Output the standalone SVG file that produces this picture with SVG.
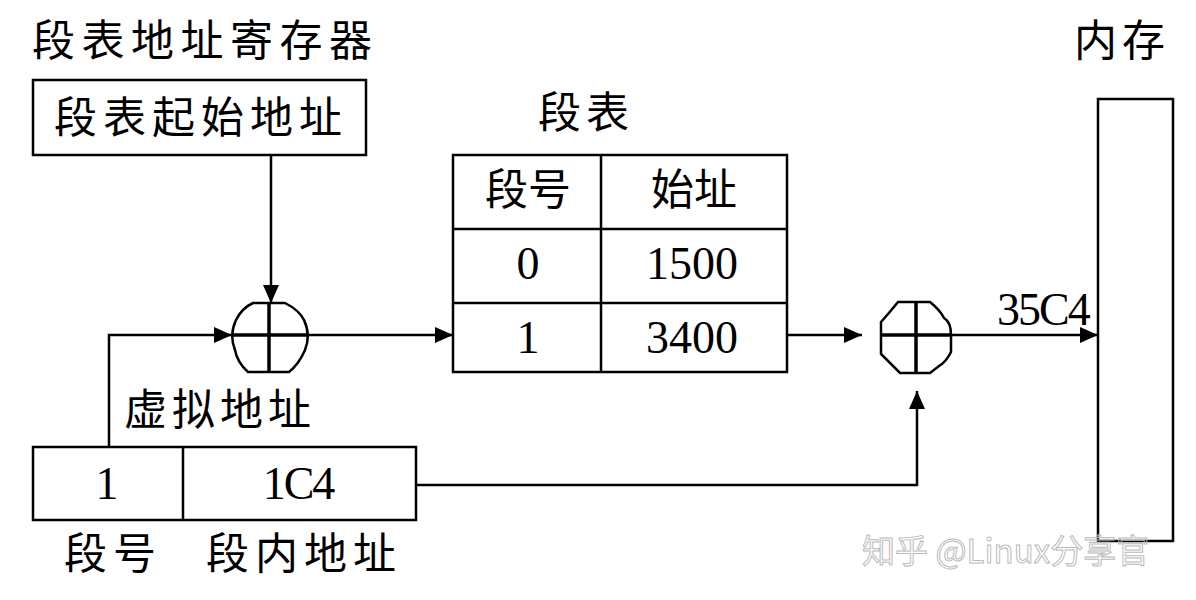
<svg xmlns="http://www.w3.org/2000/svg" width="1196" height="600" viewBox="0 0 1196 600">
<defs>
<style>
.box{fill:none;stroke:#000;stroke-width:2.5}
.ln{fill:none;stroke:#000;stroke-width:2.5}
.cross{fill:none;stroke:#000;stroke-width:3.5}
.zh{font-family:"Noto Sans CJK SC","Noto Sans",sans-serif;font-size:43px;fill:#000}
.num{font-family:"Liberation Serif",serif;font-size:46px;fill:#000}
.wm{font-family:"Noto Sans CJK SC","Noto Sans",sans-serif;font-size:33px;fill:none;stroke:#bbb;stroke-width:1}
</style>
<marker id="arr" viewBox="0 0 18 16" refX="18" refY="8" markerWidth="18" markerHeight="16" markerUnits="userSpaceOnUse" orient="auto">
<path d="M0,0 L18,8 L0,16 Z" fill="#000"/>
</marker>
</defs>
<rect width="1196" height="600" fill="#fff"/>

<g id="title-register">
<text class="zh" x="32" y="56" letter-spacing="6.5">段表地址寄存器</text>
</g>
<g id="register">
<rect class="box" x="33" y="80" width="333" height="75"/>
<text class="zh" x="54" y="133" letter-spacing="6">段表起始地址</text>
</g>

<g id="segtable">
<text class="zh" x="538" y="128" letter-spacing="5">段表</text>
<rect class="box" x="453" y="155" width="334" height="217"/>
<line class="ln" x1="601" y1="155" x2="601" y2="372"/>
<line class="ln" x1="453" y1="229" x2="787" y2="229"/>
<line class="ln" x1="453" y1="303" x2="787" y2="303"/>
<text class="zh" x="528" y="205" text-anchor="middle">段号</text>
<text class="zh" x="694" y="205" text-anchor="middle">始址</text>
<text class="num" x="528" y="279" text-anchor="middle">0</text>
<text class="num" x="692" y="279" text-anchor="middle">1500</text>
<text class="num" x="528" y="353" text-anchor="middle">1</text>
<text class="num" x="692" y="353" text-anchor="middle">3400</text>
</g>

<g id="adder1">
<path class="ln" d="M253,303 L285,303 Q299,310 304,320 Q311,335 305,350 Q299,364 289,372 L248,372 Q237,362 235,350 Q229,335 236,320 Q242,308 253,303 Z"/>
<line class="cross" x1="269" y1="303" x2="269" y2="372"/>
<line class="cross" x1="232" y1="335" x2="308" y2="335"/>
</g>

<g id="adder2">
<path class="ln" d="M898,302 L930,302 Q940,310 944,318 Q951,322 951,335 L951,352 Q946,362 939,366 L930,373 L900,373 L881,354 L881,322 Q890,312 898,302 Z"/>
<line class="cross" x1="916" y1="302" x2="916" y2="373"/>
<line class="cross" x1="881" y1="335" x2="951" y2="335"/>
</g>

<g id="virtual">
<text class="zh" x="124" y="425" letter-spacing="5">虚拟地址</text>
<rect class="box" x="33" y="447" width="383" height="73"/>
<line class="ln" x1="183" y1="447" x2="183" y2="520"/>
<text class="num" x="107" y="499" text-anchor="middle">1</text>
<text class="num" x="298" y="499" text-anchor="middle" letter-spacing="-2">1C4</text>
<text class="zh" x="64" y="569" letter-spacing="6">段号</text>
<text class="zh" x="206" y="569" letter-spacing="6">段内地址</text>
</g>

<g id="memory">
<text class="zh" x="1074" y="56" letter-spacing="5">内存</text>
<rect class="box" x="1098" y="99" width="75" height="442"/>
</g>

<g id="connectors">
<line class="ln" x1="271" y1="155" x2="271" y2="303" marker-end="url(#arr)"/>
<polyline class="ln" points="109,447 109,335 232,335" marker-end="url(#arr)"/>
<line class="ln" x1="308" y1="335" x2="453" y2="335" marker-end="url(#arr)"/>
<line class="ln" x1="787" y1="335" x2="862" y2="335" marker-end="url(#arr)"/>
<polyline class="ln" points="416,485 917,485 917,391" marker-end="url(#arr)"/>
<line class="ln" x1="951" y1="335" x2="1098" y2="335" marker-end="url(#arr)"/>
<text class="num" x="997" y="325" letter-spacing="-2">35C4</text>
</g>

<g id="watermark">
<text class="wm" x="862" y="563">知乎 @Linux分享官</text>
</g>
</svg>
